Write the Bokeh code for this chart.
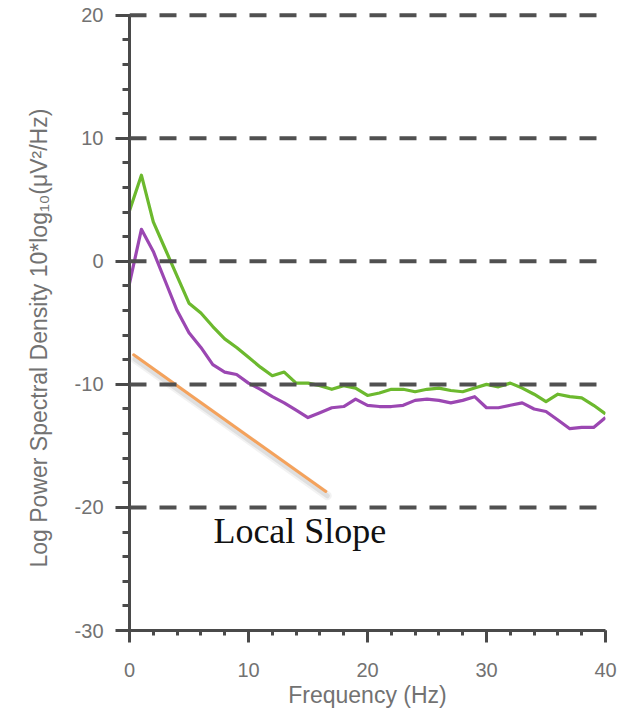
from bokeh.plotting import figure
from bokeh.models import (Range1d, SingleIntervalTicker, ColumnDataSource, Label, Span,
                          PrintfTickFormatter, Title)
from bokeh.embed import file_html
from bokeh.resources import INLINE

freq = list(range(0, 41))
green = [4.1, 7.0, 3.2, 1.0, -1.2, -3.4, -4.2, -5.3, -6.3, -7.0,
         -7.8, -8.6, -9.3, -9.0, -9.9, -9.9, -10.1, -10.4, -10.1, -10.3,
         -10.9, -10.7, -10.4, -10.4, -10.6, -10.4, -10.3, -10.5, -10.6, -10.3,
         -10.0, -10.2, -9.9, -10.3, -10.8, -11.4, -10.8, -11.0, -11.1, -11.7,
         -12.4]
purple = [-1.8, 2.6, 0.8, -1.6, -4.0, -5.8, -7.0, -8.4, -9.0, -9.2,
          -9.9, -10.4, -11.0, -11.5, -12.1, -12.7, -12.3, -11.9, -11.8, -11.2,
          -11.7, -11.8, -11.8, -11.7, -11.3, -11.2, -11.3, -11.5, -11.3, -11.0,
          -11.9, -11.9, -11.7, -11.5, -12.0, -12.2, -12.9, -13.6, -13.5, -13.5,
          -12.7]
slope_x = [0.35, 16.5]
slope_y = [-7.6, -18.7]
grid_levels = [-20, -10, 0, 10, 20]
slope_label = "Local Slope"
slope_label_pos = (7.05, -21.9)
y_title = "Log Power Spectral Density 10*log\u2081\u2080(\u03bcV\u00b2/Hz)"
x_title = "Frequency (Hz)"

p = figure(width=629, height=715, x_range=Range1d(0, 40), y_range=Range1d(-30, 20.3),
           output_backend="svg", toolbar_location=None,
           min_border_left=129, min_border_right=24, min_border_top=11, min_border_bottom=85)
p.outline_line_color = None
p.background_fill_color = "white"
p.border_fill_color = "white"
p.xgrid.visible = False
p.ygrid.visible = False

for lvl in grid_levels:
    p.add_layout(Span(location=lvl, dimension="width", line_color="#505050",
                      line_width=4, line_dash="17 13"))

axis_color = "#4a4a4a"
label_color = "#727272"

xa = p.xaxis[0]
xa.ticker = SingleIntervalTicker(interval=10, num_minor_ticks=5)
xa.formatter = PrintfTickFormatter(format="%d")
xa.axis_line_color = axis_color
xa.axis_line_width = 3
xa.major_tick_line_color = axis_color
xa.major_tick_line_width = 3
xa.major_tick_out = 12
xa.major_tick_in = 0
xa.minor_tick_line_color = axis_color
xa.minor_tick_line_width = 3
xa.minor_tick_out = 5
xa.minor_tick_in = 0
xa.major_label_text_font = "Liberation Sans"
xa.major_label_text_font_size = "20px"
xa.major_label_text_color = label_color
xa.major_label_standoff = 20
xa.axis_label = x_title
xa.axis_label_text_font = "Liberation Sans"
xa.axis_label_text_font_size = "23px"
xa.axis_label_text_font_style = "normal"
xa.axis_label_text_color = label_color
xa.axis_label_standoff = 2

ya = p.yaxis[0]
ya.ticker = SingleIntervalTicker(interval=10, num_minor_ticks=5)
ya.formatter = PrintfTickFormatter(format="%d")
ya.bounds = (-30, 20)
ya.axis_line_color = axis_color
ya.axis_line_width = 3
ya.major_tick_line_color = axis_color
ya.major_tick_line_width = 3
ya.major_tick_out = 14
ya.major_tick_in = 6
ya.minor_tick_line_color = axis_color
ya.minor_tick_line_width = 3
ya.minor_tick_out = 7
ya.minor_tick_in = 0
ya.major_label_text_font = "Liberation Sans"
ya.major_label_text_font_size = "20px"
ya.major_label_text_color = label_color
ya.major_label_standoff = 12

p.add_layout(Title(text=y_title, align="left", offset=63, standoff=40,
                   text_font="Liberation Sans", text_font_size="23px",
                   text_font_style="normal", text_color=label_color), "left")

src = ColumnDataSource(dict(f=freq, g=green, pu=purple))
p.line("f", "g", source=src, line_color="#6cb92e", line_width=3.2, line_join="round")
p.line("f", "pu", source=src, line_color="#9b47b2", line_width=3.2, line_join="round")

# orange local slope line with soft shadow
sh_x = [v + 0.12 for v in slope_x]
sh_y = [v - 0.35 for v in slope_y]
p.line(sh_x, sh_y, line_color="#000000", line_alpha=0.05, line_width=9, line_cap="round")
p.line(sh_x, sh_y, line_color="#000000", line_alpha=0.08, line_width=5, line_cap="round")
p.line(slope_x, slope_y, line_color="#f4a25c", line_width=3, line_cap="round")

p.add_layout(Label(x=slope_label_pos[0], y=slope_label_pos[1], text=slope_label,
                   text_font="Liberation Serif", text_font_size="36px",
                   text_color="#111111", text_baseline="alphabetic", text_align="left"))

open("out.html", "w").write(file_html(p, INLINE))
